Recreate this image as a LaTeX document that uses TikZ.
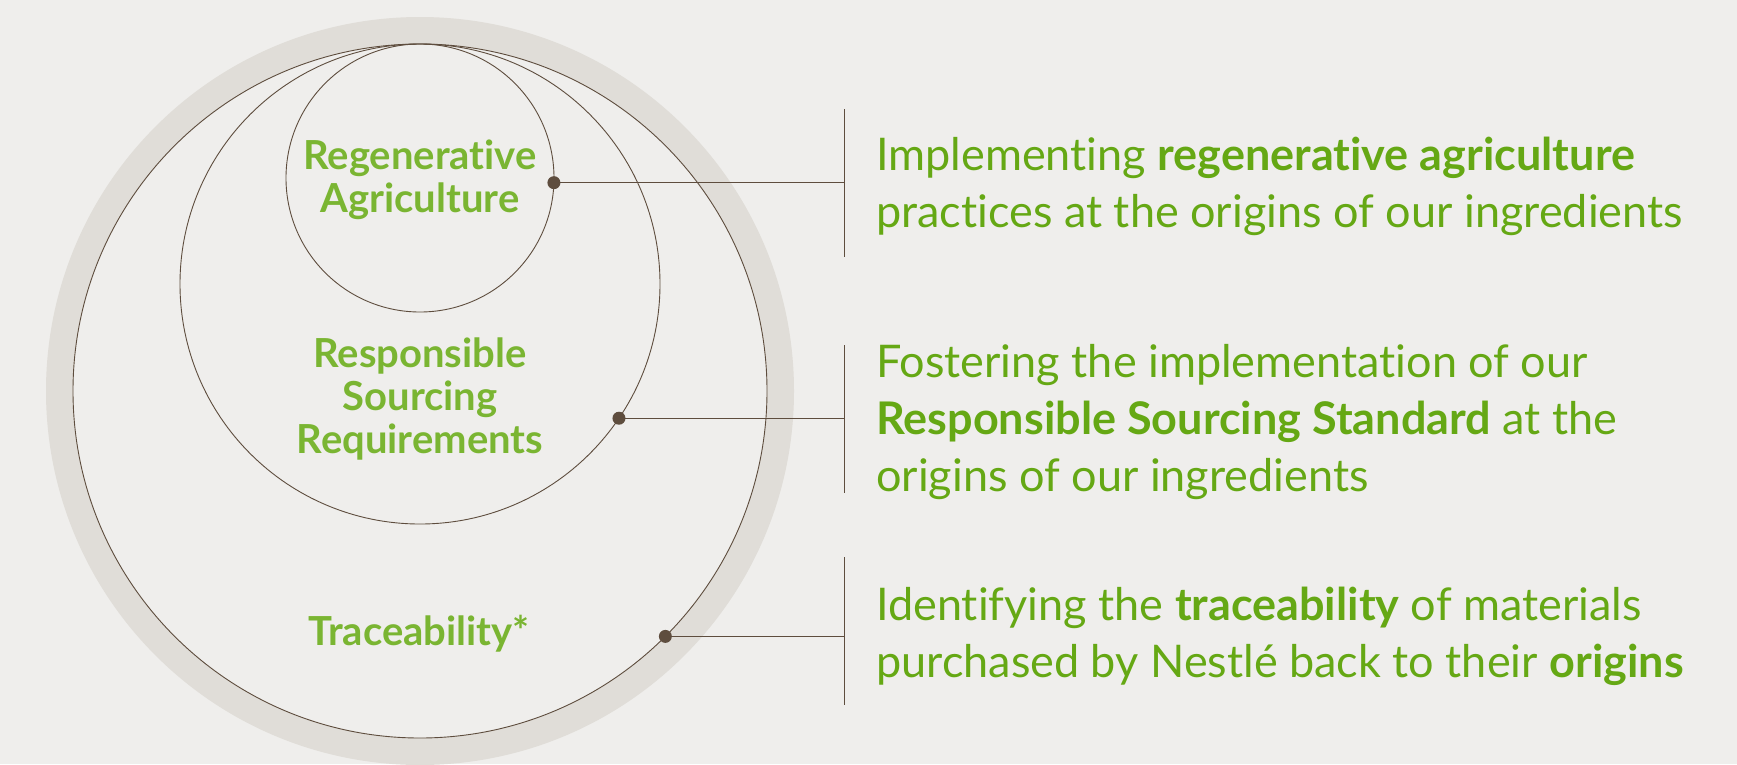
\documentclass[tikz,border=0pt]{standalone}
\usepackage{fontspec}
\setmainfont{Lato}[Ligatures=NoCommon]
\usetikzlibrary{positioning}
\definecolor{bgcol}{HTML}{EFEEEC}
\definecolor{bandcol}{HTML}{E0DDD8}
\definecolor{leafgreen}{HTML}{7AB532}
\definecolor{textgreen}{HTML}{65A814}
\definecolor{barkbrown}{HTML}{5E4D3E}

\begin{document}
\begin{tikzpicture}[x=1pt,y=-1pt,
	ring/.style={circle,draw=barkbrown,line width=0.9pt,inner sep=0pt,outer sep=0pt},
	tag/.style={font=\fontsize{40}{43}\selectfont\bfseries,text=leafgreen,align=center},
	blurb/.style={font=\fontsize{45}{57}\selectfont,text=textgreen,align=left,anchor=west,inner sep=0pt},
	pin/.style={fill=barkbrown},
	leader/.style={draw=barkbrown,line width=1pt}]
		\useasboundingbox[fill=bgcol] (0,0) rectangle (1737,764);
		%
		\draw[bandcol,line width=27pt] (420,391) circle[radius=360.5pt];
		\node[ring,minimum size=694pt] (trace) at (420,391) {};
		\node[ring,minimum size=480pt] (resp) at (420,284) {};
		\node[ring,minimum size=268pt] (regen) at (420,178) {};
		%
		\node[tag] (regenlbl) at (420,180) {Regenerative\\Agriculture};
		\node[tag] (resplbl) at (420,399) {Responsible\\Sourcing\\Requirements};
		\node[tag] (tracelbl) at (419,634) {Traceability*};
		%
		\coordinate (bar1top) at (844,109);
		\coordinate (bar1bot) at (844,257);
		\coordinate (bar2top) at (844,345);
		\coordinate (bar2bot) at (844,493);
		\coordinate (bar3top) at (844,557);
		\coordinate (bar3bot) at (844,705);
		\draw[leader] (bar1top) -- (bar1bot);
		\draw[leader] (bar2top) -- (bar2bot);
		\draw[leader] (bar3top) -- (bar3bot);
		%
		\draw[leader] (regen.-2) -- (regen.-2 -| bar1top);
		\draw[leader] (resp.-34) -- (resp.-34 -| bar2top);
		\draw[leader] (trace.-45) -- (trace.-45 -| bar3top);
		\fill[pin] (regen.-2) circle[radius=6.5pt];
		\fill[pin] (resp.-34) circle[radius=6.5pt];
		\fill[pin] (trace.-45) circle[radius=6.5pt];
		%
		\node[blurb] (regentxt) at (876,186) {Implementing \textbf{regenerative agriculture}\\practices at the origins of our ingredients};
		\node[blurb] (resptxt) at (876,422) {Fostering the implementation of our\\\textbf{Responsible Sourcing Standard} at the\\origins of our ingredients};
		\node[blurb] (tracetxt) at (876,636) {Identifying the \textbf{traceability} of materials\\purchased by Nestlé back to their \textbf{origins}};
	\end{tikzpicture}
\end{document}
